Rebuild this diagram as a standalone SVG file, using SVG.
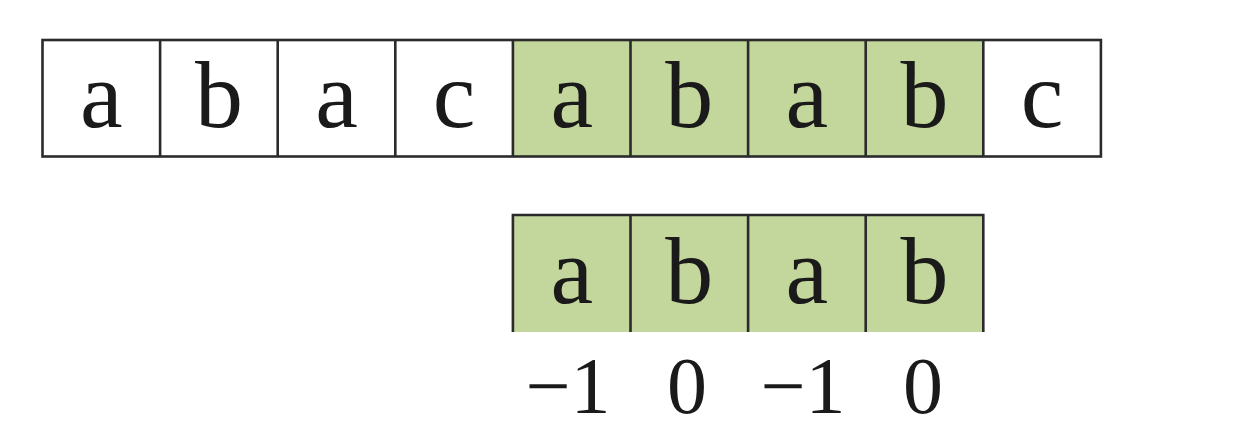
<svg xmlns="http://www.w3.org/2000/svg" width="1258" height="438" viewBox="0 0 1258 438">
<style>
.w{fill:#ffffff}
.g{fill:#c3d69b}
.ln{stroke:#2b2b2b;stroke-width:2.6;fill:none}
.t{font-family:"Liberation Serif","DejaVu Serif",serif;font-size:96px;fill:#1a1a1a;text-anchor:middle}
.n{font-family:"Liberation Serif","DejaVu Serif",serif;font-size:80px;fill:#1a1a1a;text-anchor:middle}
</style>
<rect width="1258" height="438" fill="#ffffff"/>
<g id="text-row">
<g id="t0"><rect class="w" x="42.5" y="40" width="117.6" height="116.5"/><text class="t" x="101.3" y="127">a</text></g>
<g id="t1"><rect class="w" x="160.1" y="40" width="117.6" height="116.5"/><text class="t" x="218.9" y="127">b</text></g>
<g id="t2"><rect class="w" x="277.7" y="40" width="117.6" height="116.5"/><text class="t" x="336.5" y="127">a</text></g>
<g id="t3"><rect class="w" x="395.3" y="40" width="117.6" height="116.5"/><text class="t" x="454.1" y="127">c</text></g>
<g id="t4"><rect class="g" x="512.9" y="40" width="117.6" height="116.5"/><text class="t" x="571.7" y="127">a</text></g>
<g id="t5"><rect class="g" x="630.5" y="40" width="117.6" height="116.5"/><text class="t" x="689.3" y="127">b</text></g>
<g id="t6"><rect class="g" x="748.1" y="40" width="117.6" height="116.5"/><text class="t" x="806.9" y="127">a</text></g>
<g id="t7"><rect class="g" x="865.7" y="40" width="117.6" height="116.5"/><text class="t" x="924.5" y="127">b</text></g>
<g id="t8"><rect class="w" x="983.3" y="40" width="117.6" height="116.5"/><text class="t" x="1042.1" y="127">c</text></g>
</g>
<g id="pattern-row">
<g id="p0"><rect class="g" x="512.9" y="215" width="117.6" height="117"/><text class="t" x="571.7" y="303">a</text></g>
<g id="p1"><rect class="g" x="630.5" y="215" width="117.6" height="117"/><text class="t" x="689.3" y="303">b</text></g>
<g id="p2"><rect class="g" x="748.1" y="215" width="117.6" height="117"/><text class="t" x="806.9" y="303">a</text></g>
<g id="p3"><rect class="g" x="865.7" y="215" width="117.6" height="117"/><text class="t" x="924.5" y="303">b</text></g>
</g>
<g id="grid-lines">
<rect class="ln" x="42.5" y="40" width="1058.4" height="116.5"/>
<path class="ln" d="M160.1 40V156.5M277.7 40V156.5M395.3 40V156.5M512.9 40V156.5M630.5 40V156.5M748.1 40V156.5M865.7 40V156.5M983.3 40V156.5"/>
<path class="ln" d="M512.9 332V215H983.3V332M630.5 215V332M748.1 215V332M865.7 215V332"/>
</g>
<g id="values">
<text class="n" x="568" y="413">−1</text>
<text class="n" x="687" y="413">0</text>
<text class="n" x="803" y="413">−1</text>
<text class="n" x="923" y="413">0</text>
</g>
</svg>
